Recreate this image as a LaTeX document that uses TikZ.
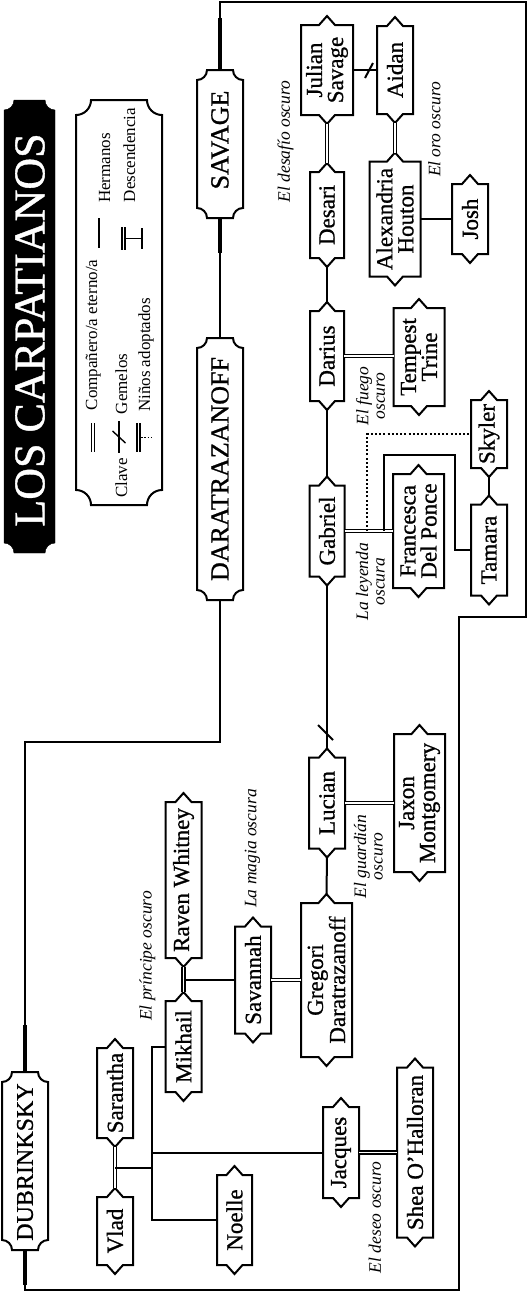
\documentclass[tikz,border=0pt]{standalone}
\usepackage{fontspec}
\setmainfont{Liberation Serif}
\newfontfamily\heavyfont{Liberation Serif}[FakeBold=0.9]
\usetikzlibrary{calc}
\tikzset{
  boxline/.style={line width=2pt, line join=miter, fill=white},
  conn/.style={line width=2pt},
  thickconn/.style={line width=4pt},
  dbl/.style={double, line width=1.3pt, double distance=1.7pt},
  dots/.style={line width=2pt, dash pattern=on 2pt off 2.2pt},
  pname/.style={rotate=90, font=\heavyfont\fontsize{23}{21}\selectfont, align=center, inner sep=0pt},
  fam/.style={rotate=90, font=\heavyfont\fontsize{26}{26}\selectfont, inner sep=0pt},
  book/.style={rotate=90, font=\fontsize{17.5}{16.5}\selectfont\itshape, align=center, inner sep=0pt},
  leg/.style={rotate=90, font=\fontsize{17}{17}\selectfont, inner sep=0pt, anchor=base},
}
% person box: name, cx, cy, half width, half height, text
\newcommand\person[6]{%
  \draw[boxline] ({#2-#4},{#3-#5}) -- ({#2-8},{#3-#5}) -- (#2,{#3-#5-9}) -- ({#2+8},{#3-#5})
    -- ({#2+#4},{#3-#5}) -- ({#2+#4},{#3+#5}) -- ({#2+8},{#3+#5}) -- (#2,{#3+#5+9})
    -- ({#2-8},{#3+#5}) -- ({#2-#4},{#3+#5}) -- cycle;
  \node[pname] (#1) at (#2,#3) {#6};
  \coordinate (#1-t) at (#2,{#3-#5-9});
  \coordinate (#1-b) at (#2,{#3+#5+9});
  \coordinate (#1-l) at ({#2-#4},#3);
  \coordinate (#1-r) at ({#2+#4},#3);
}
% plaque outline with concave corners: name, x1, y1, x2, y2, r, style
\newcommand\plaque[7]{%
  \draw[#7] ({#2},{#3+#6}) .. controls ({#2+0.552*#6},{#3+#6}) and ({#2+#6},{#3+0.552*#6}) .. ({#2+#6},{#3})
    -- ({#4-#6},{#3}) .. controls ({#4-#6},{#3+0.552*#6}) and ({#4-0.552*#6},{#3+#6}) .. ({#4},{#3+#6})
    -- ({#4},{#5-#6}) .. controls ({#4-0.552*#6},{#5-#6}) and ({#4-#6},{#5-0.552*#6}) .. ({#4-#6},{#5})
    -- ({#2+#6},{#5}) .. controls ({#2+#6},{#5-0.552*#6}) and ({#2+0.552*#6},{#5-#6}) .. ({#2},{#5-#6})
    -- cycle;
  \coordinate (#1-t) at ({(#2+#4)/2},{#3});
  \coordinate (#1-b) at ({(#2+#4)/2},{#5});
}
\begin{document}
\begin{tikzpicture}[x=1pt,y=-1pt]
\useasboundingbox (0,0) rectangle (527,1294);
\fill[white] (0,0) rectangle (527,1294);

% ---------- title and legend ----------
\plaque{titlebox}{4}{100}{55}{553}{10}{fill=black}
\node[rotate=90, font=\heavyfont\fontsize{44}{44}\selectfont, text=white, inner sep=0pt] (title) at (30,330) {LOS CARPATIANOS};

\plaque{legend}{76}{100}{162}{505}{15}{line width=2pt, fill=white}
\node[leg] (lg1) at (97,335) {Compañero/a eterno/a};
\node[leg] (lg2) at (110,168) {Hermanos};
\node[leg] (lg3) at (127,478) {Clave};
\node[leg] (lg4) at (127,384) {Gemelos};
\node[leg] (lg5) at (135,155) {Descendencia};
\node[leg] (lg6) at (150,355) {Niños adoptados};
\draw[dbl] (93,423) -- (93,452);
\draw[line width=1.4pt] (99,218) -- (99,248);
\draw[line width=1.4pt] (119,421) -- (119,453);
\draw[line width=1.4pt] (112.5,431) -- (125.5,443);
\draw[dbl] (123.5,227) -- (123.5,250);
\draw[line width=1.4pt] (125.5,238.5) -- (142,238.5);
\draw[line width=1.4pt] (142,228) -- (142,249);
\draw[dbl] (138.5,423) -- (138.5,452);
\draw[line width=1.4pt, dash pattern=on 1.5pt off 1.8pt] (141,437.5) -- (154,437.5);

% ---------- family plaques and frame ----------
\plaque{savage}{197}{70}{243}{218}{10}{line width=2pt, fill=white}
\node[fam] (savagetxt) at (220,140) {SAVAGE};
\plaque{dara}{197}{338}{243}{600}{10}{line width=2pt, fill=white}
\node[fam] (daratxt) at (220,469) {DARATRAZANOFF};
\plaque{dub}{2}{1072}{48}{1250}{10}{line width=2pt, fill=white}
\node[fam, font=\heavyfont\fontsize{24}{24}\selectfont] (dubtxt) at (25,1162) {DUBRINKSKY};

\coordinate (f1) at (220,2);
\coordinate (f2) at (525.5,617);
\coordinate (f3) at (459,1290);
\coordinate (f4) at (220,742);
\draw[conn] (savage-t) -- (f1) -| (f2) -| (f3) -| (dub-b);
\draw[conn] (savage-b) -- (dara-t);
\draw[conn] (dara-b) -- (f4) -| (dub-t);
\draw[thickconn] (savage-t) -- ++(0,-52);
\draw[thickconn] (savage-b) -- ++(0,35);
\draw[thickconn] (dub-t) -- ++(0,-47);
\draw[thickconn] (dub-b) -- ++(0,35);

% ---------- persons ----------
\person{julian}{327}{70}{26}{45}{Julian\\Savage}
\person{aidan}{395}{70}{18}{44}{Aidan}
\person{desari}{327}{215}{17}{43}{Desari}
\person{alex}{395}{219}{25.5}{57.5}{Alexandria\\Houton}
\person{josh}{470}{219}{18}{35}{Josh}
\person{darius}{327}{356}{17}{45}{Darius}
\person{tempest}{419}{357}{25.5}{49}{Tempest\\Trine}
\person{gabriel}{327}{531}{17.5}{45.5}{Gabriel}
\person{francesca}{418.5}{531}{25.5}{57}{Francesca\\Del Ponce}
\person{skyler}{489}{434}{18}{34}{Skyler}
\person{tamara}{489}{550}{18}{45.5}{Tamara}
\person{lucian}{327}{803}{18}{45.5}{Lucian}
\person{jaxon}{419.5}{803}{25.5}{69}{Jaxon\\Montgomery}
\person{gregori}{326.5}{980}{25.5}{77}{Gregori\\Daratrazanoff}
\person{savannah}{253}{980}{18}{53.5}{Savannah}
\person{raven}{183.5}{880}{18}{78}{Raven Whitney}
\person{mikhail}{183.5}{1046.5}{18}{45.5}{Mikhail}
\person{sarantha}{115}{1093}{18}{45}{Sarantha}
\person{vlad}{115}{1231}{18}{34}{Vlad}
\person{noelle}{234.5}{1220}{17.5}{45}{Noelle}
\person{jacques}{341}{1152.5}{18}{45.5}{Jacques}
\person{shea}{415}{1152.5}{18}{85}{Shea O’Halloran}

% ---------- connectors ----------
\draw[dbl] (julian-b) -- (desari-t);
\draw[dbl] (aidan-b) -- (alex-t);
\draw[conn] (julian-r) -- (aidan-l);
\draw[conn] (365,78) -- (373,63);
\draw[conn] (alex-r) -- (josh-l);
\draw[conn] (desari-b) -- (darius-t);
\draw[dbl] (darius-r) -- (darius-r -| tempest-l);
\draw[conn] (darius-b) -- (gabriel-t);
\draw[dbl] (gabriel-r) -- (francesca-l);
\coordinate (gfd) at (367,531);
\coordinate (gfs) at (384,531);
\coordinate (tj) at (455,455);
\draw[dots] (gfd) |- (skyler-l);
\draw[conn] (gfs) |- (tj) |- (tamara-l);
\draw[conn] (skyler-b) -- (tamara-t);
\draw[conn] (gabriel-b) -- (lucian-t);
\draw[conn] (318,725) -- (333,740);
\draw[dbl] (lucian-r) -- (jaxon-l);
\draw[conn] (lucian-b) -- (gregori-t);
\draw[dbl] (savannah-r) -- (gregori-l);
\draw[dbl] (raven-b) -- (mikhail-t);
\coordinate (rm) at (183.5,980);
\draw[conn] (rm) -- (savannah-l);
\draw[dbl] (vlad-t) -- (sarantha-b);
\coordinate (vs) at (115,1168);
\coordinate (tr) at (152,1168);
\draw[conn] (vs) -- (tr);
\draw[conn] (mikhail-l) -| (tr) |- (noelle-l);
\draw[conn] (tr |- jacques-l) -- (jacques-l);
\draw[dbl] (jacques-r) -- (shea-l);

% ---------- book titles ----------
\node[book] (b1) at (285.5,141.5) {El desafío oscuro};
\node[book] (b2) at (434.5,129.5) {El oro oscuro};
\node[book] (b3) at (370.5,396) {El fuego\\oscuro};
\node[book] (b4) at (370.5,581.5) {La leyenda\\oscura};
\node[book] (b5) at (368.5,856.5) {El guardián\\oscuro};
\node[book] (b6) at (375,1217.5) {El deseo oscuro};
\node[book] (b7) at (147.5,956) {El príncipe oscuro};
\node[book] (b8) at (252.5,848.5) {La magia oscura};
\end{tikzpicture}
\end{document}
